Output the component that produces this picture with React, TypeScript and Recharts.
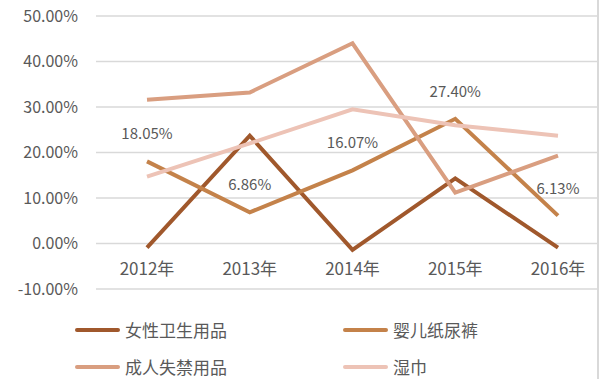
import React from 'react'
import { LineChart, Line, XAxis, YAxis, CartesianGrid, LabelList } from 'recharts'

const years = ['2012年', '2013年', '2014年', '2015年', '2016年']
const feminine = [-0.9, 23.7, -1.4, 14.3, -0.9]
const diapers = [18.05, 6.86, 16.07, 27.4, 6.13]
const adult = [31.6, 33.2, 44.0, 11.2, 19.3]
const wipes = [14.7, 22.0, 29.5, 26.0, 23.7]
const yTicks = [-10, 0, 10, 20, 30, 40, 50]

const seriesNames = ['女性卫生用品', '婴儿纸尿裤', '成人失禁用品', '湿巾']
const colors = ['#A0582C', '#C4824A', '#D99E80', '#EDC3B6']

const data = years.map((year, i) => ({
  year,
  feminine: feminine[i],
  diapers: diapers[i],
  adult: adult[i],
  wipes: wipes[i]
}))

const font = '"Noto Sans CJK SC", "Noto Sans", sans-serif'
const textColor = '#595959'

function YearTick({ x, y, payload }: any): React.JSX.Element {
  return (
    <text x={x} y={y - 14} textAnchor="middle" fill={textColor} fontSize={17} fontFamily={font}>
      {payload.value}
    </text>
  )
}

function LegendItem({ name, color }: { name: string; color: string }): React.JSX.Element {
  return (
    <div style={{ display: 'flex', alignItems: 'center', height: 37 }}>
      <div style={{ width: 45, height: 4, borderRadius: 2, background: color, marginRight: 5 }} />
      <span style={{ fontSize: 17, color: textColor, fontFamily: font }}>{name}</span>
    </div>
  )
}

function App(): React.JSX.Element {
  const keys = ['feminine', 'diapers', 'adult', 'wipes']
  return (
    <div style={{ position: 'fixed', left: 0, top: 0, width: 600, height: 379, background: '#fff', overflow: 'hidden' }}>
      <div style={{ position: 'absolute', left: 0, top: 0, width: 597, height: 379, overflow: 'hidden' }}>
        <LineChart width={620} height={330} data={data} margin={{ top: 16, right: 11, bottom: 11, left: 0 }}>
          <CartesianGrid vertical={false} stroke="#D9D9D9" strokeWidth={1.5} />
          <XAxis
            dataKey="year"
            axisLine={false}
            tickLine={false}
            tickSize={0}
            tickMargin={0}
            height={30}
            padding={{ left: 51, right: 51 }}
            tick={<YearTick />}
            interval={0}
          />
          <YAxis
            width={96}
            domain={[-10, 50]}
            ticks={yTicks}
            axisLine={false}
            tickLine={false}
            tickSize={0}
            tickMargin={18}
            tickFormatter={(v: number) => `${v.toFixed(2)}%`}
            tick={{ fill: textColor, fontSize: 16, fontFamily: font }}
          />
          {keys.map((key, i) => (
            <Line
              key={key}
              type="linear"
              dataKey={key}
              stroke={colors[i]}
              strokeWidth={4}
              dot={false}
              isAnimationActive={false}
            >
              {key === 'diapers' && (
                <LabelList
                  dataKey="diapers"
                  position="top"
                  offset={22}
                  formatter={(v: any) => `${Number(v).toFixed(2)}%`}
                  style={{ fill: textColor, fontSize: 15, fontFamily: font }}
                />
              )}
            </Line>
          ))}
        </LineChart>
      </div>
      <div style={{ position: 'absolute', left: 597, top: 0, width: 1.5, height: 379, background: '#D9D9D9' }} />
      <div style={{ position: 'absolute', left: 75, top: 311 }}>
        <LegendItem name={seriesNames[0]} color={colors[0]} />
        <LegendItem name={seriesNames[2]} color={colors[2]} />
      </div>
      <div style={{ position: 'absolute', left: 343, top: 311 }}>
        <LegendItem name={seriesNames[1]} color={colors[1]} />
        <LegendItem name={seriesNames[3]} color={colors[3]} />
      </div>
    </div>
  )
}

export default App
